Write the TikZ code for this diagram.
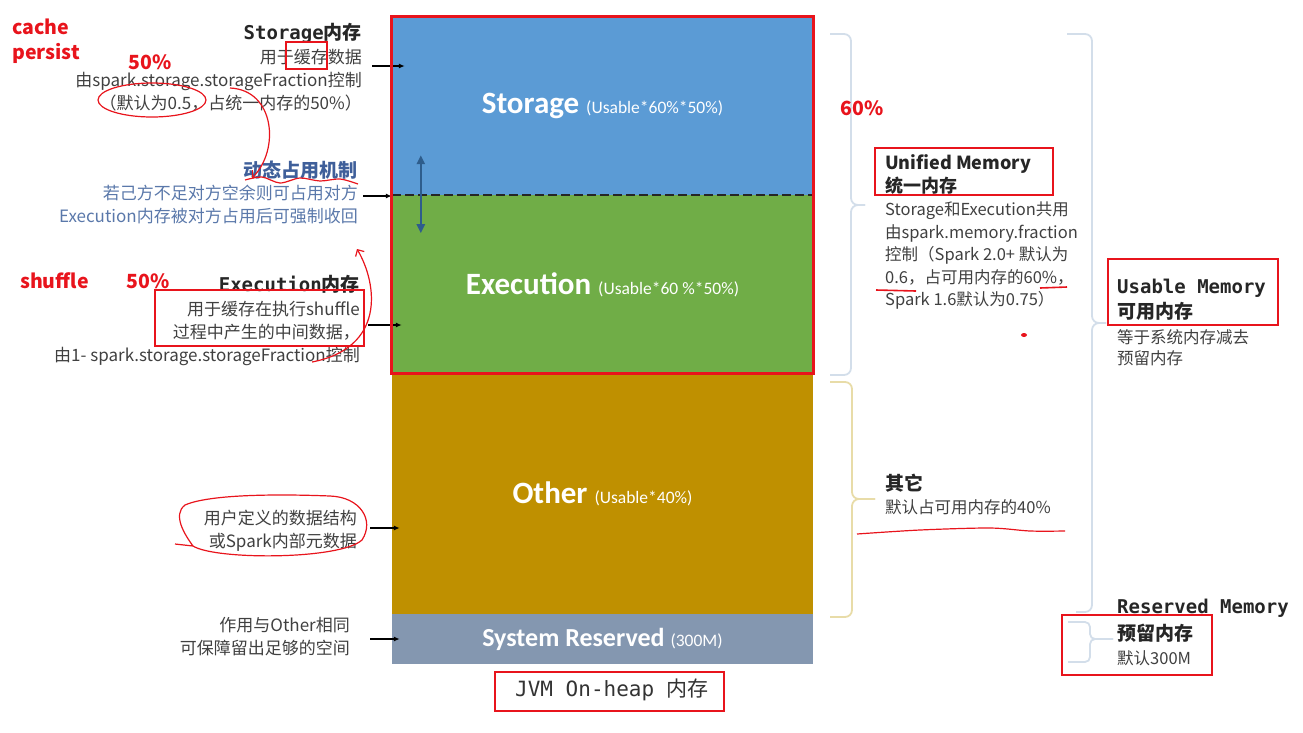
\documentclass[tikz,border=0pt]{standalone}
\usepackage{xcolor}
\usepackage{fontspec}
\setmainfont{Noto Sans CJK SC}
\setmonofont{DejaVu Sans Mono}
\newfontfamily\calib{Carlito}
\newcommand\usz{\calib\mdseries\fontsize{17.5}{17.5}\selectfont}
\usetikzlibrary{arrows.meta, calc}

\definecolor{stblue}{HTML}{5B9BD5}
\definecolor{exgreen}{HTML}{70AD47}
\definecolor{otgold}{HTML}{BF9000}
\definecolor{srgray}{HTML}{8497B0}
\definecolor{dblue}{HTML}{2E5D8C}
\definecolor{bracegray}{HTML}{D3DEEA}
\definecolor{bracegold}{HTML}{E8DCA8}
\definecolor{txtgray}{HTML}{404040}
\definecolor{dyblue}{HTML}{3F5F9A}
\definecolor{dybody}{HTML}{5A78AA}
\definecolor{annred}{HTML}{E8141C}

\begin{document}
\begin{tikzpicture}[x=1pt, y=-1pt, >={Stealth[length=2mm]},
  blk/.style={inner sep=0pt, minimum width=421pt, text=white, font=\calib\bfseries\fontsize{31}{31}\selectfont},
  lnote/.style={text=txtgray, align=right, inner sep=0pt, font=\fontsize{17}{23}\selectfont},
  rnote/.style={text=txtgray, align=left, inner sep=0pt, font=\fontsize{16.5}{22.5}\selectfont},
  hd/.style={text=black!85, inner sep=0pt, font=\bfseries\fontsize{19}{24}\selectfont},
  ptr/.style={-{Latex[length=6pt,width=5pt]}, line width=1.3pt},
  brc/.style={draw=bracegray, line width=1.8pt, rounded corners=7pt},
  redbox/.style={draw=annred, line width=2.8pt},
  redmark/.style={draw=annred, line width=1.2pt},
  redtxt/.style={text=annred, inner sep=0pt, font=\bfseries\fontsize{19.5}{25}\selectfont}]
  \useasboundingbox (0,0) rectangle (1303,732);

  % memory blocks
  \node[blk, fill=stblue, minimum height=178pt] (stor) at (602.5,106) {Storage {\usz(Usable*60\%*50\%)}};
  \node[blk, fill=exgreen, minimum height=178pt, anchor=north] (exec) at (stor.south) {Execution {\usz(Usable*60 \%*50\%)}};
  \node[blk, fill=otgold, minimum height=240pt, anchor=north] (other) at (exec.south) {Other {\usz(Usable*40\%)}};
  \node[blk, fill=srgray, minimum height=50pt, anchor=north, font=\calib\bfseries\fontsize{26}{26}\selectfont] (sysres) at (other.south) {System Reserved {\usz(300M)}};
  \draw[black!85, line width=2pt, dash pattern=on 9pt off 4pt] (stor.south west) -- (stor.south east);
  \draw[{Triangle[length=9pt,width=8pt]}-{Triangle[length=9pt,width=8pt]}, dblue, line width=2.2pt] ([xshift=29pt,yshift=40pt]stor.south west) -- ([xshift=29pt,yshift=-38pt]stor.south west);
  \node[font=\ttfamily\fontsize{21}{21}\selectfont, text=black!80, inner sep=0pt] (jvm) at (612,690) {JVM On-heap {\rmfamily 内存}};

  % left notes
  \node[hd, anchor=east] (sttl) at (362,33) {{\ttfamily Storage}内存};
  \node[lnote, anchor=north east] (stbody) at (362,49) {用于缓存数据\\由spark.storage.storageFraction控制\\（默认为0.5，占统一内存的50\%）};
  \node[hd, anchor=east, text=dyblue] (dyttl) at (358,170) {动态占用机制};
  \node[lnote, anchor=north east, text=dybody] (dybody) at (358,185) {若己方不足对方空余则可占用对方\\Execution内存被对方占用后可强制收回};
  \node[hd, anchor=east] (exttl) at (360,284) {{\ttfamily Execution}内存};
  \node[lnote, anchor=north east] (exbody) at (360,301) {用于缓存在执行shuffle\\过程中产生的中间数据，\\由1- spark.storage.storageFraction控制};
  \node[lnote, anchor=north east] (otbody) at (357,510) {用户定义的数据结构\\或Spark内部元数据};
  \node[lnote, anchor=north east] (srbody) at (350,617) {作用与Other相同\\可保障留出足够的空间};

  \coordinate (sta) at (372,66);
  \coordinate (dya) at (363,196);
  \coordinate (exa) at (368,325);
  \coordinate (ota) at (370,528);
  \coordinate (sra) at (370,639);
  \draw[ptr] (sta) -- ([xshift=13pt]sta -| stor.west);
  \draw[ptr] (dya) -- (dya -| stor.west);
  \draw[ptr] (exa) -- ([xshift=10pt]exa -| exec.west);
  \draw[ptr] (ota) -- ([xshift=8pt]ota -| other.west);
  \draw[ptr] (sra) -- ([xshift=8pt]sra -| sysres.west);

  % right braces
  \draw[brc] (830,34) -- (851,34) -- (851,205) -- (865,205);
  \draw[brc] (865,205) -- (851,205) -- (851,375) -- (830,375);
  \draw[brc, draw=bracegold] (830,382) -- (852,382) -- (852,499) -- (875,499);
  \draw[brc, draw=bracegold] (875,499) -- (852,499) -- (852,617) -- (830,617);
  \draw[brc] (1067,34) -- (1092,34) -- (1092,323) -- (1106,323);
  \draw[brc] (1106,323) -- (1092,323) -- (1092,612) -- (1076,612);
  \draw[brc, rounded corners=5pt] (1068,622) -- (1090,622) -- (1090,639) -- (1113,639);
  \draw[brc, rounded corners=5pt] (1113,639) -- (1090,639) -- (1090,662) -- (1068,662);

  % right notes
  \node[hd, anchor=north west, align=left, font=\bfseries\fontsize{18}{23}\selectfont] (umttl) at (885,154) {Unified Memory\\统一内存};
  \node[rnote, anchor=north west] (umbody) at (885,202) {Storage和Execution共用\\由spark.memory.fraction\\控制（Spark 2.0+ 默认为\\0.6，占可用内存的60\%，\\Spark 1.6默认为0.75）};
  \node[hd, anchor=west] (otttl) at (885,483) {其它};
  \node[rnote, anchor=west] (otr) at (885,507) {默认占可用内存的40\%};
  \node[hd, anchor=north west, align=left, font=\bfseries\fontsize{19}{25}\selectfont] (usttl) at (1117,279) {{\ttfamily Usable Memory}\\可用内存};
  \node[rnote, anchor=north west, font=\fontsize{16.5}{21}\selectfont] (usbody) at (1117,329) {等于系统内存减去\\预留内存};
  \node[hd, anchor=north west, align=left, font=\bfseries\fontsize{19}{27}\selectfont] (rsttl) at (1117,599) {{\ttfamily Reserved Memory}\\预留内存};
  \node[rnote, anchor=west] (rsbody) at (1117,658) {默认300M};

  % red annotations
  \node[redtxt, anchor=north west, align=left] (cache) at (12,19) {cache\\persist};
  \node[redtxt] (pst) at (150,62) {50\%};
  \node[redtxt, anchor=west] (shuf) at (20,281) {shuffle};
  \node[redtxt] (pex) at (148,281) {50\%};
  \node[redtxt] (pum) at (862,108) {60\%};
  \draw[redbox] (stor.north west) rectangle (exec.south east);
  \draw[redbox] (286,42) rectangle (327,69);
  \draw[redbox] (155,290) rectangle (364,346);
  \draw[redbox] (875,148) rectangle (1053,195);
  \draw[redbox] (1108,259) rectangle (1278,325);
  \draw[redbox] (1062,615) rectangle (1212,675);
  \draw[redbox] (495,672) rectangle (724,711);
  \draw[redmark] (152,100) ellipse [x radius=54, y radius=17];
  \draw[redmark, -{Straight Barb[length=5pt]}] (230,88) .. controls (275,90) and (280,150) .. (252,178);
  \draw[redmark] plot[smooth] coordinates {(245,180) (262,177) (280,183) (300,178) (320,181) (340,179) (358,184)};
  \draw[redmark, -{Straight Barb[length=5pt]}] (312,362) .. controls (385,348) and (378,285) .. (357,249);
  \draw[redmark] (175,544) -- (193,546) .. controls (215,560) and (340,560) .. (362,540) .. controls (375,520) and (360,497) .. (330,496) .. controls (280,494) and (210,494) .. (185,505) .. controls (172,515) and (185,535) .. (193,546);
  \draw[redmark, line width=1.6pt] (876,290) -- (916,291);
  \draw[redmark, line width=1.6pt] (1040,288) -- (1067,287);
  \fill[annred] (1024,335) ellipse [x radius=3, y radius=2];
  \draw[redmark] plot[smooth] coordinates {(857,534) (920,530) (990,528) (1030,531) (1065,531)};
\end{tikzpicture}
\end{document}
